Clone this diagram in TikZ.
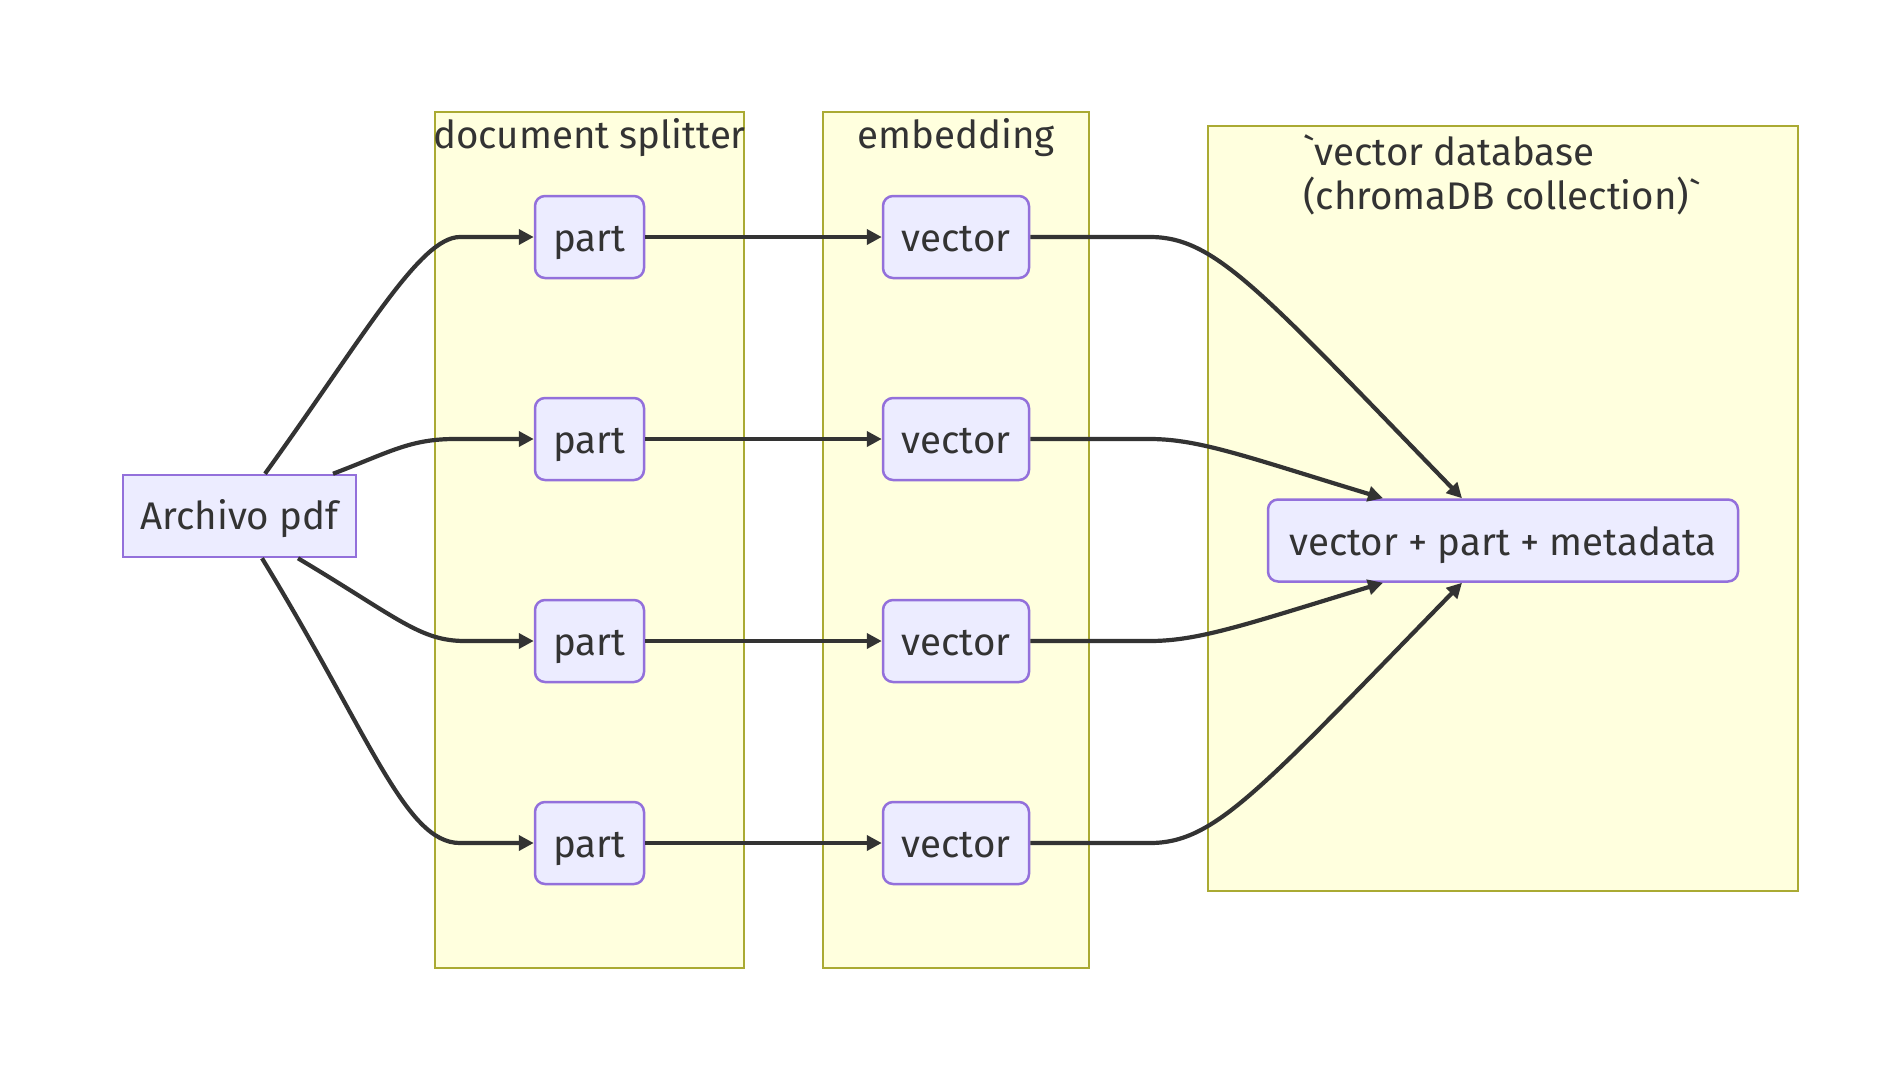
\documentclass[tikz,border=0pt]{standalone}
\usepackage{fontspec}
\setmainfont{Fira Sans}
\usetikzlibrary{arrows.meta}
\definecolor{clusterfill}{HTML}{FFFFDE}
\definecolor{clusterborder}{HTML}{AAAA33}
\definecolor{nodefill}{HTML}{ECECFF}
\definecolor{nodeborder}{HTML}{9370DB}
\definecolor{txt}{HTML}{333333}
\definecolor{edgecol}{HTML}{333333}
\newcommand{\nodefont}{\fontsize{38.5}{46}\selectfont}
\tikzset{
  cluster/.style={draw=clusterborder, fill=clusterfill, line width=2pt, inner sep=0pt},
  box/.style={draw=nodeborder, fill=nodefill, line width=2.5pt, rounded corners=10pt, minimum height=82pt, inner sep=0pt, text height=29pt, text depth=0pt, text=txt, font=\nodefont},
  sqbox/.style={box, rounded corners=0pt, text height=26pt},
  edge/.style={draw=edgecol, line width=4.2pt, -{Triangle[length=15pt,width=15pt]}},
  ctitle/.style={text=txt, font=\nodefont, inner sep=0pt},
}
\begin{document}
\begin{tikzpicture}[x=1pt,y=-1pt]
\useasboundingbox[fill=white] (0,0) rectangle (1892,1066);
% clusters
\node[cluster, minimum width=309pt, minimum height=856pt] (cs) at (589.5,540) {};
\node[cluster, minimum width=266pt, minimum height=856pt] (ce) at (956,540) {};
\node[cluster, minimum width=590pt, minimum height=765pt] (cd) at (1503,508.5) {};
\node[ctitle, anchor=base] (ts) at (589.5,148) {document splitter};
\node[ctitle, anchor=base] (te) at (956,148) {embedding};
\node[ctitle, anchor=base west] (td1) at (1303,165) {\textasciigrave vector database};
\node[ctitle, anchor=base west] (td2) at (1303,209) {(chromaDB collection)\textasciigrave};
% nodes
\node[sqbox, minimum width=233pt] (arch) at (239.5,516) {Archivo pdf};
\foreach \i/\y in {1/237,2/439,3/641,4/843}{
  \node[box, minimum width=109pt] (p\i) at (589.5,\y) {part};
  \node[box, minimum width=146pt] (v\i) at (956,\y) {vector};
}
\node[box, minimum width=470pt] (db) at (1503,540.5) {vector + part + metadata};
% edges left
\draw[edge] ([xshift=25.5pt]arch.north) .. controls (365,335) and (420,237) .. (460,237) -- (p1.west);
\draw[edge] ([xshift=93.5pt]arch.north) .. controls (390,452) and (410,439) .. (455,439) -- (p2.west);
\draw[edge] ([xshift=58.5pt]arch.south) .. controls (398,618) and (420,641) .. (465,641) -- (p3.west);
\draw[edge] ([xshift=22.5pt]arch.south) .. controls (370,735) and (405,843) .. (460,843) -- (p4.west);
% middle
\foreach \i in {1,2,3,4}{
  \draw[edge] (p\i.east) -- (v\i.west);
}
% edges right
\draw[edge] (v1.east) -- (1150,237) .. controls (1215,237) and (1260,290) .. ([xshift=-41pt]db.north);
\draw[edge] (v2.east) -- (1150,439) .. controls (1200,439) and (1250,458) .. ([xshift=-120pt]db.north);
\draw[edge] (v3.east) -- (1150,641) .. controls (1200,641) and (1250,623) .. ([xshift=-120pt]db.south);
\draw[edge] (v4.east) -- (1150,843) .. controls (1215,843) and (1260,790) .. ([xshift=-41pt]db.south);
\end{tikzpicture}
\end{document}
